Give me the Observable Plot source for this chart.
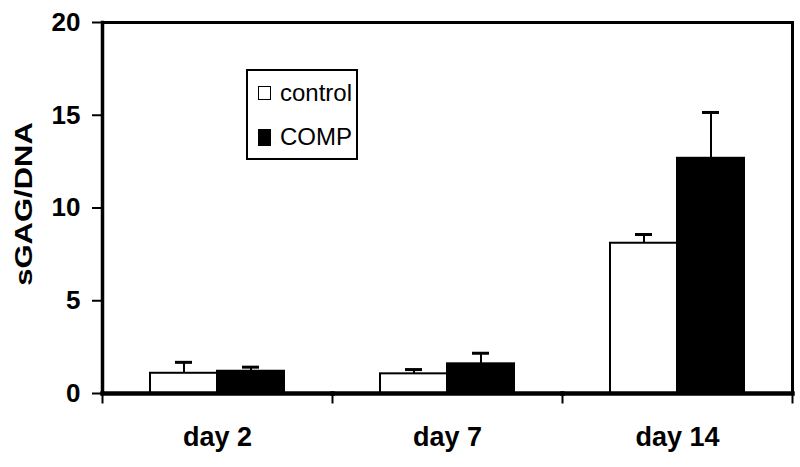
<!DOCTYPE html>
<html>
<head>
<meta charset="utf-8">
<script src="https://cdn.jsdelivr.net/npm/d3@7"></script>
<script src="https://cdn.jsdelivr.net/npm/@observablehq/plot@0.6"></script>
<style>
  html, body { margin: 0; padding: 0; background: white; }
  #wrap { position: relative; width: 800px; height: 467px; }
  #ylabel { position: absolute; left: 24px; top: 204px; transform: translate(-50%, -50%) rotate(-90deg) scaleY(0.8);
    font: bold 31px "Liberation Sans", Arial, sans-serif; white-space: nowrap; color: black; line-height: 1; }
  #legend { position: absolute; left: 246px; top: 69px; width: 108px; height: 87px; border: 2px solid black;
    font: 24px "Liberation Sans", Arial, sans-serif; color: black; background: white; }
  .item { position: absolute; left: 10px; display: flex; align-items: center; }
  .sw { width: 11px; height: 12px; border: 1.5px solid black; margin-right: 9px; }
</style>
</head>
<body>
<div id="wrap"></div>
<script>
const days = ["day 2", "day 7", "day 14"];
const series = ["control", "COMP"];
const controlMean = [1.09, 1.06, 8.1];
const controlErr = [0.59, 0.23, 0.47];
const compMean = [1.2, 1.6, 12.68];
const compErr = [0.22, 0.57, 2.47];
const yTicks = [0, 5, 10, 15, 20];
const fills = {control: "white", COMP: "black"};

const rows = [];
days.forEach((d, i) => {
  rows.push({day: d, series: "control", mean: controlMean[i], err: controlErr[i]});
  rows.push({day: d, series: "COMP", mean: compMean[i], err: compErr[i]});
});

const plotH = 467 - 22 - 74;
const chart = Plot.plot({
  width: 800,
  height: 467,
  marginLeft: 102,
  marginRight: 8,
  marginTop: 22,
  marginBottom: 74,
  style: {fontFamily: "'Liberation Sans', Arial, sans-serif", color: "black", background: "white", overflow: "visible"},
  fx: {domain: days, padding: 0, label: null, axis: null},
  x: {domain: series, paddingInner: 0, paddingOuter: 0.716, axis: null},
  y: {domain: [0, 20], label: null, axis: null},
  marks: [
    Plot.ruleX(rows, {fx: "day", x: "series", y1: "mean", y2: d => d.mean + d.err, stroke: "black", strokeWidth: 2}),
    Plot.tickY(rows, {fx: "day", x: "series", y: d => d.mean + d.err, stroke: "black", strokeWidth: 3, insetLeft: 25, insetRight: 25}),
    Plot.barY(rows, {fx: "day", x: "series", y: "mean", fill: d => fills[d.series], stroke: "black", strokeWidth: 2}),
    Plot.frame({anchor: "top", stroke: "black", strokeWidth: 3}),
    Plot.frame({anchor: "bottom", stroke: "black", strokeWidth: 4.5}),
    Plot.frame({anchor: "left", fx: [days[0]], stroke: "black", strokeWidth: 3.5}),
    Plot.frame({anchor: "right", fx: [days[2]], stroke: "black", strokeWidth: 3}),
    Plot.frame({anchor: "left", stroke: "black", strokeWidth: 2, insetTop: plotH, insetBottom: -9}),
    Plot.frame({anchor: "right", fx: [days[2]], stroke: "black", strokeWidth: 2, insetTop: plotH, insetBottom: -9}),
    Plot.axisY({ticks: yTicks, tickSize: 10, tickPadding: 12, tickFormat: d => String(d), fontSize: 26, fontWeight: "bold", strokeWidth: 2, label: null}),
    Plot.axisFx({anchor: "bottom", tickSize: 0, tickPadding: 33, fontSize: 27, fontWeight: "bold", label: null})
  ]
});
const wrap = document.getElementById("wrap");
wrap.appendChild(chart);

const yl = document.createElement("div");
yl.id = "ylabel";
yl.textContent = "sGAG/DNA";
wrap.appendChild(yl);

const leg = document.createElement("div");
leg.id = "legend";
series.forEach((s, i) => {
  const it = document.createElement("div");
  it.className = "item";
  it.style.top = (i === 0 ? 8 : 52) + "px";
  const sw = document.createElement("div");
  sw.className = "sw";
  sw.style.background = fills[s];
  if (s === "COMP") sw.style.height = "15px";
  const t = document.createElement("span");
  t.textContent = s;
  it.appendChild(sw);
  it.appendChild(t);
  leg.appendChild(it);
});
wrap.appendChild(leg);
</script>
</body>
</html>
